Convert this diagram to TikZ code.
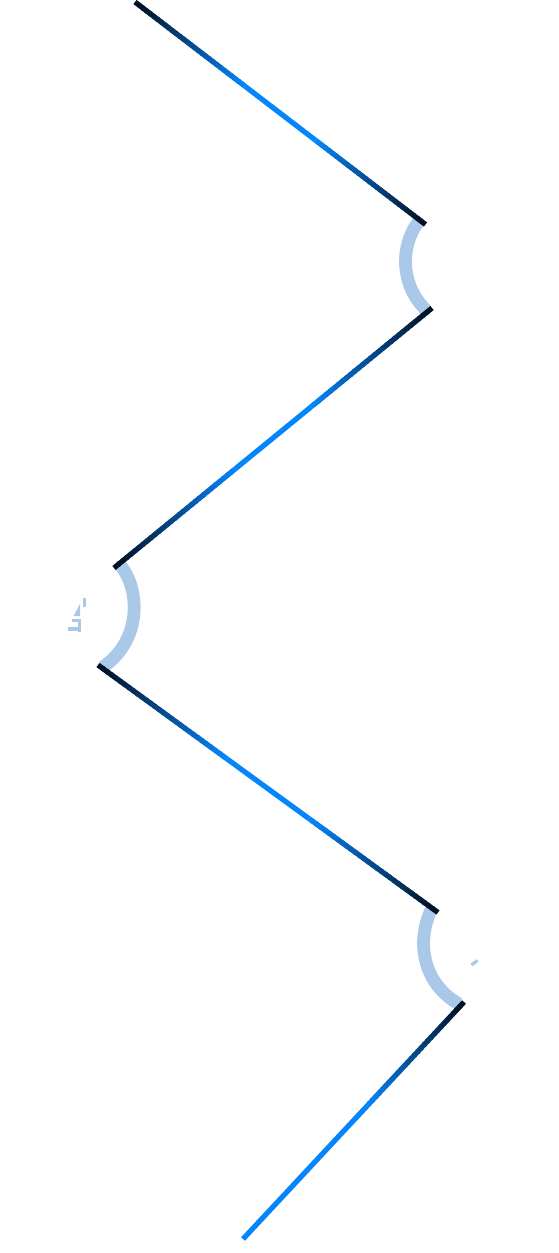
\documentclass[tikz,border=0pt]{standalone}
\usepackage{tikz}
\usetikzlibrary{calc}

\definecolor{legdark}{HTML}{020F20}
\definecolor{legblue}{HTML}{0585FA}
\definecolor{bendblue}{HTML}{AAC8E8}

\tikzset{
	legline/.style={line width=3.9pt, line cap=butt},
	bendarc/.style={line width=9.6pt, color=bendblue},
	scrap/.style={fill=bendblue, draw=none}
}

% dark at #1, blue at #2
\newcommand{\fadeline}[2]{
	\foreach \t in {0,...,29}{
		\pgfmathtruncatemacro{\mixed}{100*\t/29}
		\draw[legline, color=legblue!\mixed!legdark] ($(#1)!\t/30!(#2)$) -- ($(#1)!{min(1,(\t+1.4)/30)}!(#2)$);
	}
}

\begin{document}
\begin{tikzpicture}[x=0.75pt,y=-0.75pt]
	\useasboundingbox (0,0) rectangle (558,1253);

	% Bends
		\draw[bendarc] (419,221) .. controls (400,245) and (400,285) .. (426,310);
		\draw[bendarc] (121,566) .. controls (140,590) and (142,640) .. (103,667);
		\draw[bendarc] (431,910) .. controls (415,945) and (425,985) .. (459,1004);

	% Line ends
		\coordinate (topA) at (135,2);
		\coordinate (topB) at (425.5,224.5);
		\coordinate (upperA) at (432,308);
		\coordinate (upperB) at (114,568);
		\coordinate (lowerA) at (98,665);
		\coordinate (lowerB) at (438,912.5);
		\coordinate (lastA) at (464,1002);
		\coordinate (lastB) at (243,1239);

	% Legs
		\foreach \a/\b in {topA/topB, upperA/upperB, lowerA/lowerB}{
			\coordinate (midA) at ($(\a)!0.38!(\b)$);
			\coordinate (midB) at ($(\a)!0.62!(\b)$);
			\draw[legline, color=legblue] (midA) -- (midB);
			\fadeline{\a}{midA}
			\fadeline{\b}{midB}
		}
		\coordinate (midA) at ($(lastA)!0.44!(lastB)$);
		\draw[legline, color=legblue] (midA) -- (lastB);
		\fadeline{lastA}{midA}

	% Scraps beside the bends
		\fill[scrap] (82.5,598) rectangle (86,607);
		\fill[scrap] (80,604) -- (80,616) -- (73.5,616) -- cycle;
		\fill[scrap] (72,619) rectangle (81,622);
		\fill[scrap] (77.5,619) rectangle (81,632);
		\fill[scrap] (68,627) rectangle (81,630.5);
		\draw[bendblue, line width=2.4pt] (471.5,965) -- (477.5,960.5);
\end{tikzpicture}
\end{document}
